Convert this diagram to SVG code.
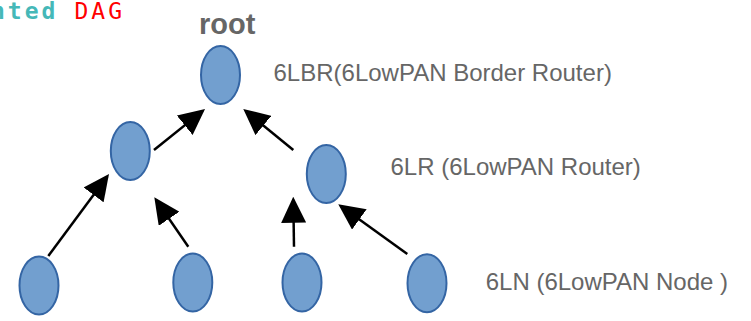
<svg xmlns="http://www.w3.org/2000/svg" width="751" height="321" viewBox="0 0 751 321">
<style>
.node{fill:#729fcf;stroke:#3465a4;stroke-width:2}
.lbl{font-family:"Liberation Sans",Arial,sans-serif;font-size:24px;fill:#666666}
.edge{stroke:#000;stroke-width:2.5;fill:none;marker-end:url(#ah)}
.mono{font-family:"DejaVu Sans Mono",monospace;font-size:23px;letter-spacing:3px}
</style>
<defs>
<marker id="ah" markerUnits="userSpaceOnUse" markerWidth="26" markerHeight="25" refX="23" refY="12.5" orient="auto">
<path d="M0,0 L26,12.5 L0,25 Z" fill="#000"/>
</marker>
</defs>
<rect width="751" height="321" fill="#ffffff"/>
<g id="title">
<text class="mono" x="-9" y="19" font-weight="bold" fill="#45b8b8">nted</text>
<text class="mono" x="74.5" y="19" fill="#ff0000">DAG</text>
<text x="199" y="33.5" font-family="Liberation Sans,Arial,sans-serif" font-size="29" font-weight="bold" fill="#666666">root</text>
</g>
<g id="connectors">
<line class="edge" x1="154" y1="150" x2="202.7" y2="110.9"/>
<line class="edge" x1="293.3" y1="150" x2="245.6" y2="110.9"/>
<line class="edge" x1="48.3" y1="256" x2="107.2" y2="176.4"/>
<line class="edge" x1="188.3" y1="246.7" x2="156" y2="199.8"/>
<line class="edge" x1="294" y1="246.7" x2="293.3" y2="199.7"/>
<line class="edge" x1="407.3" y1="254" x2="340.7" y2="206"/>
</g>
<g id="n-root"><ellipse class="node" cx="220.5" cy="75" rx="19.5" ry="29"/></g>
<g id="n-lr1"><ellipse class="node" cx="130.3" cy="151" rx="19.5" ry="29"/></g>
<g id="n-lr2"><ellipse class="node" cx="326.3" cy="174" rx="19.5" ry="29"/></g>
<g id="n-ln1"><ellipse class="node" cx="39" cy="285.5" rx="19.5" ry="29"/></g>
<g id="n-ln2"><ellipse class="node" cx="192.8" cy="282.5" rx="19.5" ry="29"/></g>
<g id="n-ln3"><ellipse class="node" cx="302" cy="282.5" rx="19.5" ry="29"/></g>
<g id="n-ln4"><ellipse class="node" cx="427" cy="283.3" rx="19.5" ry="29"/></g>
<g id="labels">
<text class="lbl" x="273.5" y="81">6LBR(6LowPAN Border Router)</text>
<text class="lbl" x="390.5" y="175">6LR (6LowPAN Router)</text>
<text class="lbl" x="485.7" y="290">6LN (6LowPAN Node )</text>
</g>
</svg>
